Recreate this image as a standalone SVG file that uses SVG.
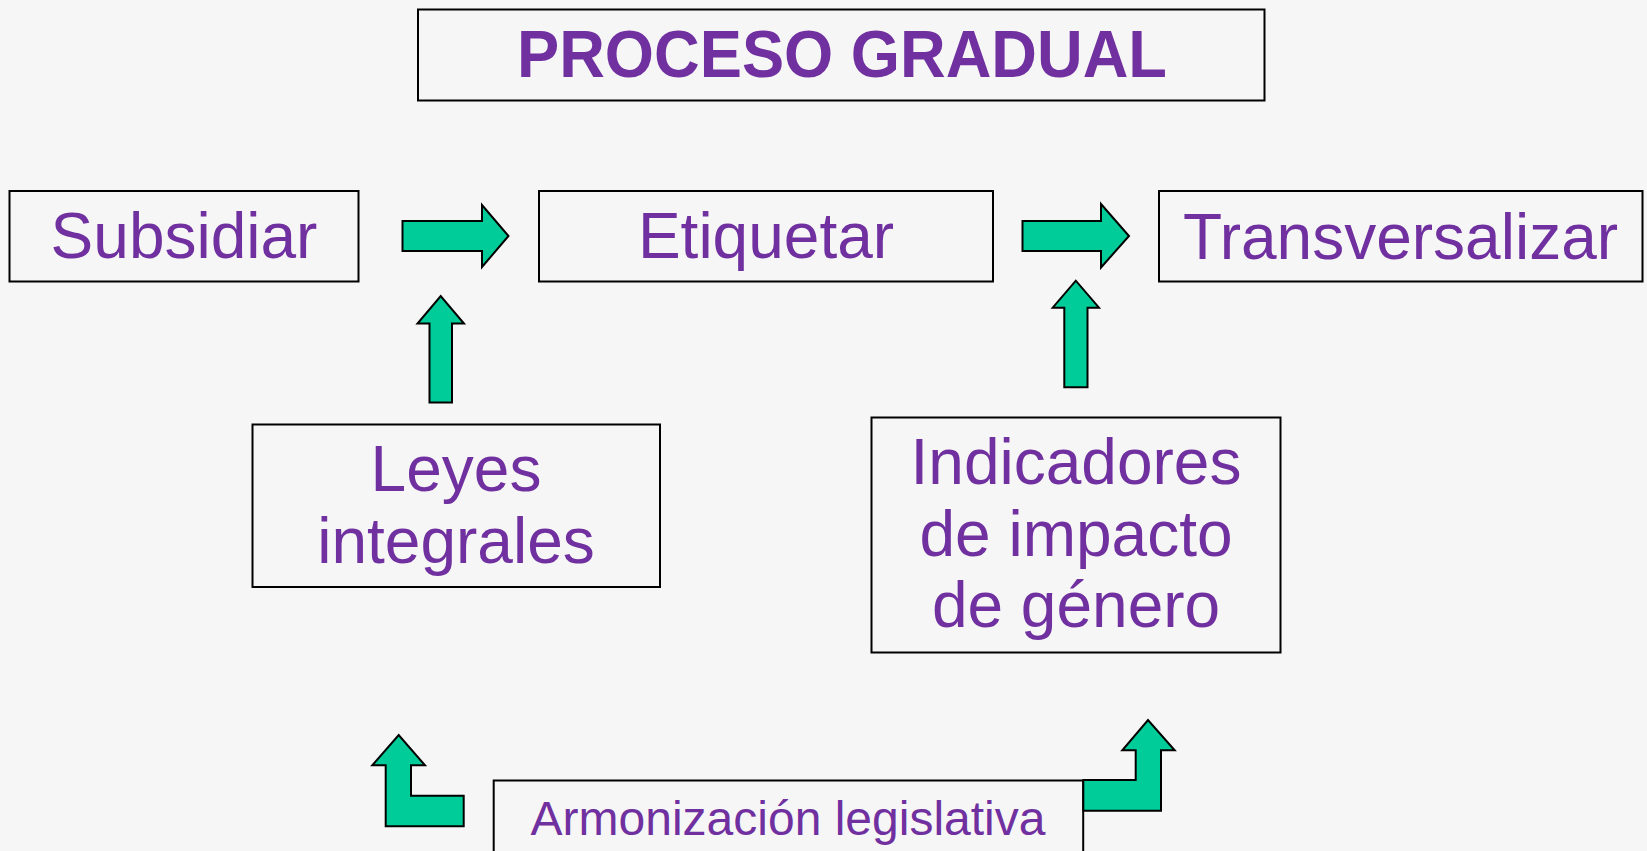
<svg xmlns="http://www.w3.org/2000/svg" width="1647" height="851" viewBox="0 0 1647 851">
<style>
.box{fill:#f6f6f6;stroke:#000;stroke-width:2}
.t{font-family:"Liberation Sans",Arial,sans-serif;fill:#7030a0;text-anchor:middle;font-size:64px}
.arr{fill:#00cc99;stroke:#000;stroke-width:2;stroke-linejoin:miter}
</style>
<rect width="1647" height="851" fill="#f6f6f6"/>
<g id="title">
<rect class="box" x="418" y="9.5" width="846.5" height="91"/>
<text class="t" x="842" y="76.5" style="font-weight:bold;font-size:66px" textLength="650" lengthAdjust="spacingAndGlyphs">PROCESO GRADUAL</text>
</g>
<g id="subsidiar">
<rect class="box" x="9.5" y="191" width="349" height="90.5"/>
<text class="t" x="184" y="258">Subsidiar</text>
</g>
<g id="etiquetar">
<rect class="box" x="539" y="191" width="454" height="90.5"/>
<text class="t" x="766" y="258">Etiquetar</text>
</g>
<g id="transversalizar">
<rect class="box" x="1159" y="191" width="483.5" height="90.5"/>
<text class="t" x="1400.5" y="258.5">Transversalizar</text>
</g>
<g id="leyes">
<rect class="box" x="252.5" y="424.5" width="407.5" height="162.5"/>
<text class="t" x="456" y="491">Leyes</text>
<text class="t" x="456" y="563">integrales</text>
</g>
<g id="indicadores">
<rect class="box" x="871.5" y="417.5" width="409" height="235"/>
<text class="t" x="1076" y="484">Indicadores</text>
<text class="t" x="1076" y="555.5">de impacto</text>
<text class="t" x="1076" y="626.5">de género</text>
</g>
<g id="armonizacion">
<rect class="box" x="493.7" y="780.5" width="589.5" height="100"/>
<text class="t" x="788" y="835" style="font-size:48px">Armonización legislativa</text>
</g>
<g id="connectors">
<path class="arr" d="M402.5,221 H482 V205 L508.5,236 L482,267 V251 H402.5 Z"/>
<path class="arr" d="M1022.5,221 H1101 V204 L1129,236 L1101,267.5 V251 H1022.5 Z"/>
<path class="arr" d="M429.5,402.5 V323.5 H417.5 L440.7,296 L464,323.5 H452 V402.5 Z"/>
<path class="arr" d="M1064.3,387.3 V307.7 H1052.7 L1075.8,280.7 L1099,307.7 H1087.5 V387.3 Z"/>
<path class="arr" d="M463.7,795.7 H411 V765.3 H425 L398.7,735 L372.3,765.3 H385.7 V826.3 H463.7 Z"/>
<path class="arr" d="M1083.3,780 H1135.7 V750.3 H1122.3 L1148,720 L1174.7,750.3 H1161 V810.7 H1083.3 Z"/>
</g>
</svg>
